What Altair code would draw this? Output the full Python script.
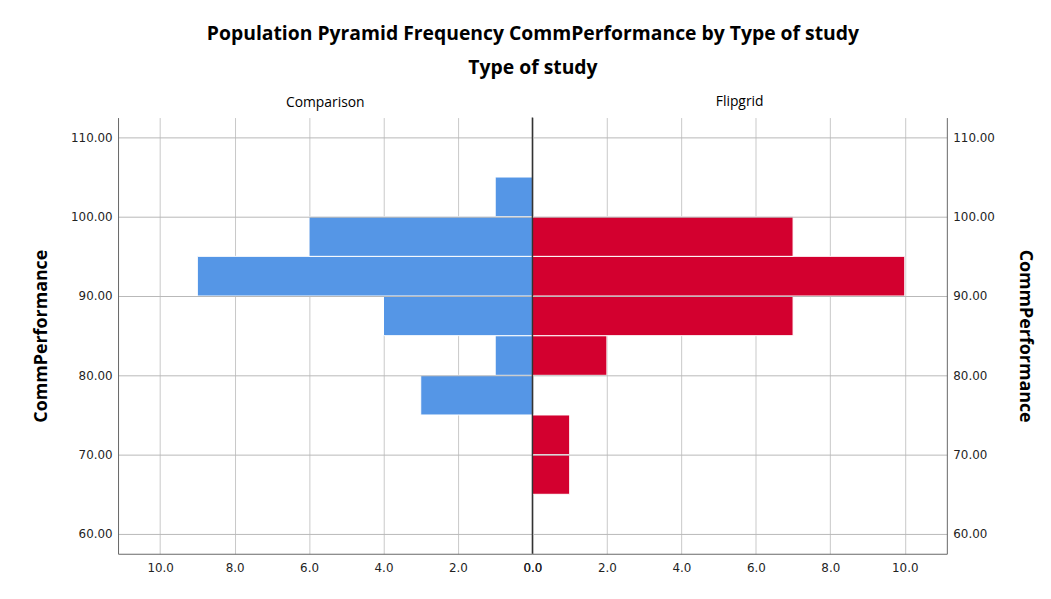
import altair as alt
import pandas as pd

bin_start = [65, 70, 75, 80, 85, 90, 95, 100]
bin_width = 5
comparison_counts = [0, 0, 3, 1, 4, 9, 6, 1]
flipgrid_counts = [1, 1, 0, 2, 7, 10, 7, 0]
groups = ["Comparison", "Flipgrid"]
y_ticks = [60, 70, 80, 90, 100, 110]
x_ticks = [0, 2, 4, 6, 8, 10]

colors = {"Comparison": "#5596E6", "Flipgrid": "#D3002F"}
X_MAX = 11.13
Y_DOM = [57.5, 112.5]
W, H = 418, 440
TFONT = "Open Sans"
LFONT = "DejaVu Sans"


def frame(counts, group):
    return pd.DataFrame({
        "start": bin_start,
        "end": [b + bin_width for b in bin_start],
        "count": counts,
        "zero": [0] * len(counts),
        "group": [group] * len(counts),
    }).query("count > 0")


def panel(counts, group, reverse, y_orient):
    df = frame(counts, group)
    xscale = alt.Scale(domain=[0, X_MAX], reverse=reverse, nice=False, zero=False)
    yscale = alt.Scale(domain=Y_DOM, nice=False, zero=False)
    xaxis = alt.Axis(values=x_ticks, format=".1f", title=None, grid=True,
                     gridColor="#c8c8c8", tickSize=0, labelPadding=9,
                     labelFlush=False, labelFont=LFONT, labelFontSize=12,
                     labelColor="#222", domainColor="#666", zindex=0)
    yaxis = alt.Axis(values=y_ticks, format=".2f", title="CommPerformance",
                     orient=y_orient, grid=True, gridColor="#b8b8b8",
                     tickSize=0, labelPadding=6, labelFont=LFONT,
                     labelFontSize=12, labelColor="#222", domainColor="#666",
                     titleFont=TFONT, titleFontSize=18, titleFontWeight="bold",
                     titleColor="#000", titlePadding=21 if y_orient == "right" else 20,
                     zindex=1)
    bars = alt.Chart(df).mark_rect(stroke="white", strokeWidth=1,
                                   color=colors[group]).encode(
        x=alt.X("count:Q", scale=xscale, axis=xaxis),
        x2="zero:Q",
        y=alt.Y("start:Q", scale=yscale, axis=yaxis),
        y2="end:Q",
    )
    layers = [bars]
    if not reverse:
        center = alt.Chart(pd.DataFrame({"x": [0]})).mark_rule(
            color="#333", strokeWidth=1.5).encode(x=alt.X("x:Q", scale=xscale))
        layers.append(center)
    return alt.layer(*layers).properties(
        width=W, height=H,
        title=alt.TitleParams(group, font=TFONT, fontSize=14,
                              fontWeight="normal", color="#000", offset=8),
    )


left = panel(comparison_counts, groups[0], True, "left")
right = panel(flipgrid_counts, groups[1], False, "right")

chart = alt.hconcat(left, right, spacing=0, bounds="flush").properties(
    title=alt.TitleParams(
        "Population Pyramid Frequency CommPerformance  by Type of study",
        subtitle="Type of study", anchor="middle", font=TFONT, fontSize=19.5,
        fontWeight="bold", color="#000", subtitleFont=TFONT,
        subtitleFontSize=19.5, subtitleFontWeight="bold", subtitleColor="#000",
        subtitlePadding=14, offset=17),
    padding={"left": 25, "top": 14, "right": 10, "bottom": 10},
).configure_view(strokeWidth=0)

chart.save("out.html", embed_options={"renderer": "svg", "actions": False})
